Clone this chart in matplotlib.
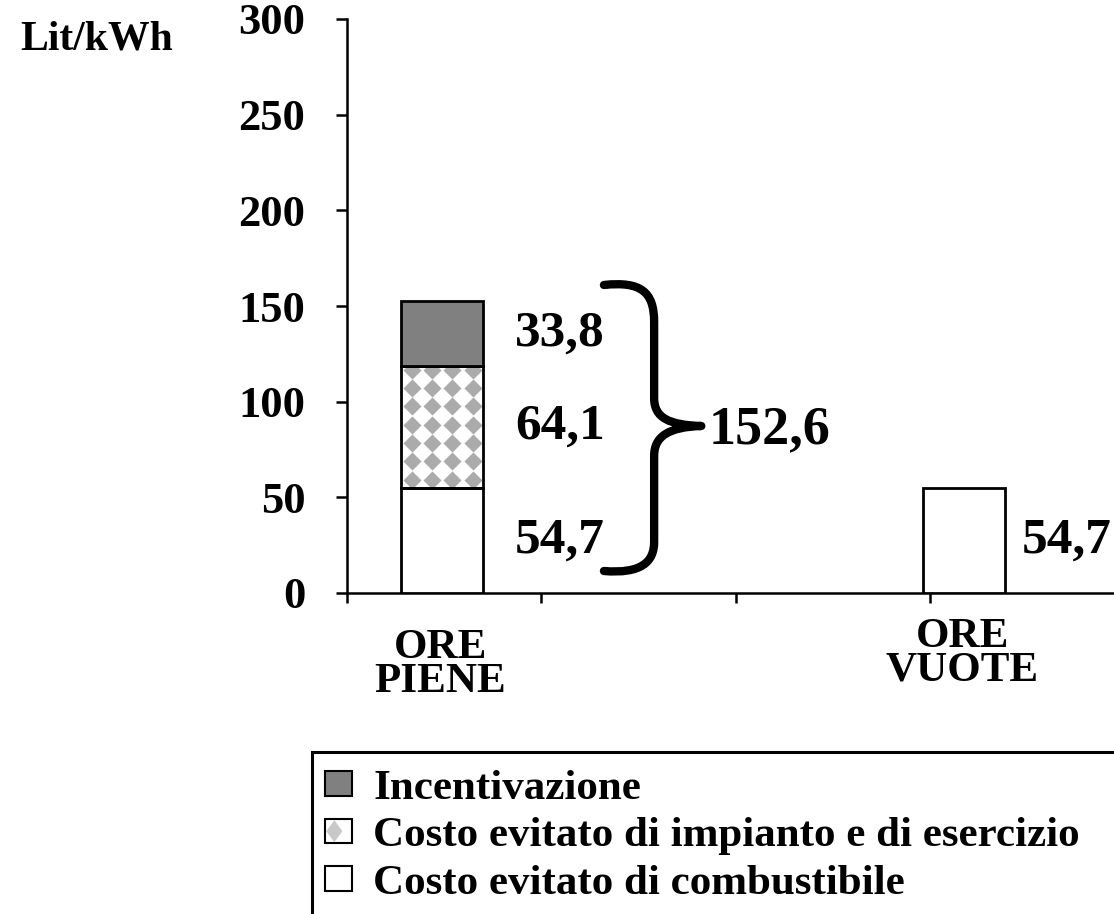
import matplotlib
matplotlib.use("Agg")
import matplotlib.pyplot as plt
import numpy as np
from matplotlib.patches import Rectangle, Polygon, Patch, PathPatch
from matplotlib.path import Path
from matplotlib.legend_handler import HandlerBase

# ---------------- data ----------------
categories = ["ORE\nPIENE", "ORE\nVUOTE"]
series_names = ["Incentivazione",
                "Costo evitato di impianto e di esercizio",
                "Costo evitato di combustibile"]
combustibile = [54.7, 54.7]
impianto = [64.1, 0.0]
incentivazione = [33.8, 0.0]
total_piene = 152.6
value_labels_piene = ["54,7", "64,1", "33,8"]
value_label_vuote = "54,7"
total_label = "152,6"
yticks = [0, 50, 100, 150, 200, 250, 300]
ylabel = "Lit/kWh"

# ---------------- layout/style ----------------
plt.rcParams['font.family'] = ['Liberation Serif', 'DejaVu Serif']
plt.rcParams['font.weight'] = 'bold'
FS = 31
FS_TICK = 32
FS_LEG = 31
FS_VAL = 37
FS_BIG = 39

W, H = 1114, 914
fig = plt.figure(figsize=(W / 100, H / 100), dpi=100)
ax = fig.add_axes([347 / W, 1 - 593 / H, 1 - 347 / W + 0.02, (593 - 19) / H])

bar_x = [0.49, 3.175]
bar_w = 0.42
lw_bar = 2.0

ax.set_xlim(0, (W - 347) / 193.7 + 0.1)
ax.set_ylim(0, 300)

b1 = ax.bar(bar_x, combustibile, width=bar_w, color="white", edgecolor="black",
            linewidth=lw_bar, zorder=3)
bottom2 = np.array(combustibile)
b2 = ax.bar(bar_x[:1], impianto[:1], bottom=bottom2[:1], width=bar_w, color="white",
            edgecolor="black", linewidth=lw_bar, zorder=3)
bottom3 = bottom2 + np.array(impianto)
b3 = ax.bar(bar_x[:1], incentivazione[:1], bottom=bottom3[:1], width=bar_w,
            color="#808080", edgecolor="black", linewidth=lw_bar, zorder=3)

# diamond pattern inside the middle segment
seg = b2.patches[0]
x0, y0 = seg.get_x(), seg.get_y()
w, h = seg.get_width(), seg.get_height()
cols = x0 + (np.arange(-1, 5) + 0.5) * w / 4
rows = (y0 + h) - 2.0 - np.arange(0, 8) * 9.6
xx, yy = np.meshgrid(cols, rows)
sc = ax.scatter(xx.ravel(), yy.ravel(), marker="D", s=85, color="#ababab",
                linewidths=0, zorder=2.5)
sc.set_clip_path(seg)
seg.set_facecolor("none")

# spines / ticks
for s in ["top", "right"]:
    ax.spines[s].set_visible(False)
ax.spines["left"].set_linewidth(1.8)
ax.spines["bottom"].set_linewidth(1.8)
ax.set_yticks(yticks)
ax.set_yticklabels([str(t) for t in yticks], fontsize=FS_TICK, fontweight="bold")
ax.set_xticks([0, 1, 2, 3, 4])
ax.set_xticklabels([])
ax.tick_params(axis="y", length=8, width=1.8, pad=22)
ax.tick_params(axis="x", length=7, width=1.8, direction="out")

# category labels
cat_y = [-0.062, -0.043]
for xc, lab, yc in zip(bar_x, categories, cat_y):
    ax.text(xc - 0.01, yc, lab, transform=ax.get_xaxis_transform(), ha="center",
            va="top", fontsize=FS, fontweight="bold", linespacing=0.86)

# value labels
mids = [combustibile[0] / 2, combustibile[0] + impianto[0] / 2,
        combustibile[0] + impianto[0] + incentivazione[0] / 2]
for m, lab in zip(mids, value_labels_piene):
    ax.text(0.865, m, lab, ha="left", va="center", fontsize=FS_VAL, fontweight="bold")
ax.text(3.47, combustibile[1] / 2, value_label_vuote, ha="left", va="center",
        fontsize=FS_VAL, fontweight="bold")

# brace (drawn in pixel-like coordinates, converted to data)
def px(xp, yp):
    return ((xp - 347) / 193.7, (593 - yp) / (574 / 300))

pts = [(603, 285), (640, 281), (653, 292), (653, 322),
       (653, 398),
       (653, 418), (668, 425), (700, 426),
       (668, 427), (653, 436), (653, 456),
       (653, 542),
       (653, 562), (640, 574), (603, 571)]
codes = [Path.MOVETO, Path.CURVE4, Path.CURVE4, Path.CURVE4,
         Path.LINETO,
         Path.CURVE4, Path.CURVE4, Path.CURVE4,
         Path.CURVE4, Path.CURVE4, Path.CURVE4,
         Path.LINETO,
         Path.CURVE4, Path.CURVE4, Path.CURVE4]
brace = Path([px(*p) for p in pts], codes)
ax.add_patch(PathPatch(brace, facecolor="none", edgecolor="black", lw=6,
                       capstyle="round", joinstyle="round", zorder=4, clip_on=False))
ax.text(px(707, 0)[0], px(0, 430)[1], total_label, ha="left", va="center",
        fontsize=FS_BIG, fontweight="bold")

# y unit label
fig.text(20 / W, 1 - 40 / H, ylabel, ha="left", va="center", fontsize=30,
         fontweight="bold")

# legend
class DiamondHandler(HandlerBase):
    def create_artists(self, legend, orig_handle, xdescent, ydescent, width,
                       height, fontsize, trans):
        r = Rectangle((-xdescent, -ydescent), width, height, facecolor="white",
                      edgecolor="black", lw=1.5, transform=trans)
        cx, cy = -xdescent + width * 0.35, -ydescent + height / 2
        dw, dh = width * 0.3, height * 0.45
        d = Polygon([(cx - dw, cy), (cx, cy + dh), (cx + dw, cy), (cx, cy - dh)],
                    closed=True, facecolor="#c8c8c8", edgecolor="none",
                    transform=trans)
        return [r, d]

h1 = Patch(facecolor="#808080", edgecolor="black", lw=1.5)
h2 = Patch(facecolor="white", edgecolor="black", lw=1.5, label="x")
h3 = Patch(facecolor="white", edgecolor="black", lw=1.5)
leg = fig.legend([h1, h2, h3], series_names, loc="upper left",
                 bbox_to_anchor=(325 / W, 1 - 770 / H), frameon=False,
                 prop={"family": "Liberation Serif", "weight": "bold", "size": FS_LEG},
                 handlelength=0.62, handleheight=0.5, handletextpad=0.5,
                 labelspacing=0.22, borderpad=0, borderaxespad=0,
                 handler_map={h2: DiamondHandler()})

fig.add_artist(Rectangle((312 / W, -0.05), 1.0, (914 - 752) / H + 0.05,
                         transform=fig.transFigure, fill=False, lw=2.2,
                         edgecolor="black"))

fig.savefig("out.png", dpi=100)
